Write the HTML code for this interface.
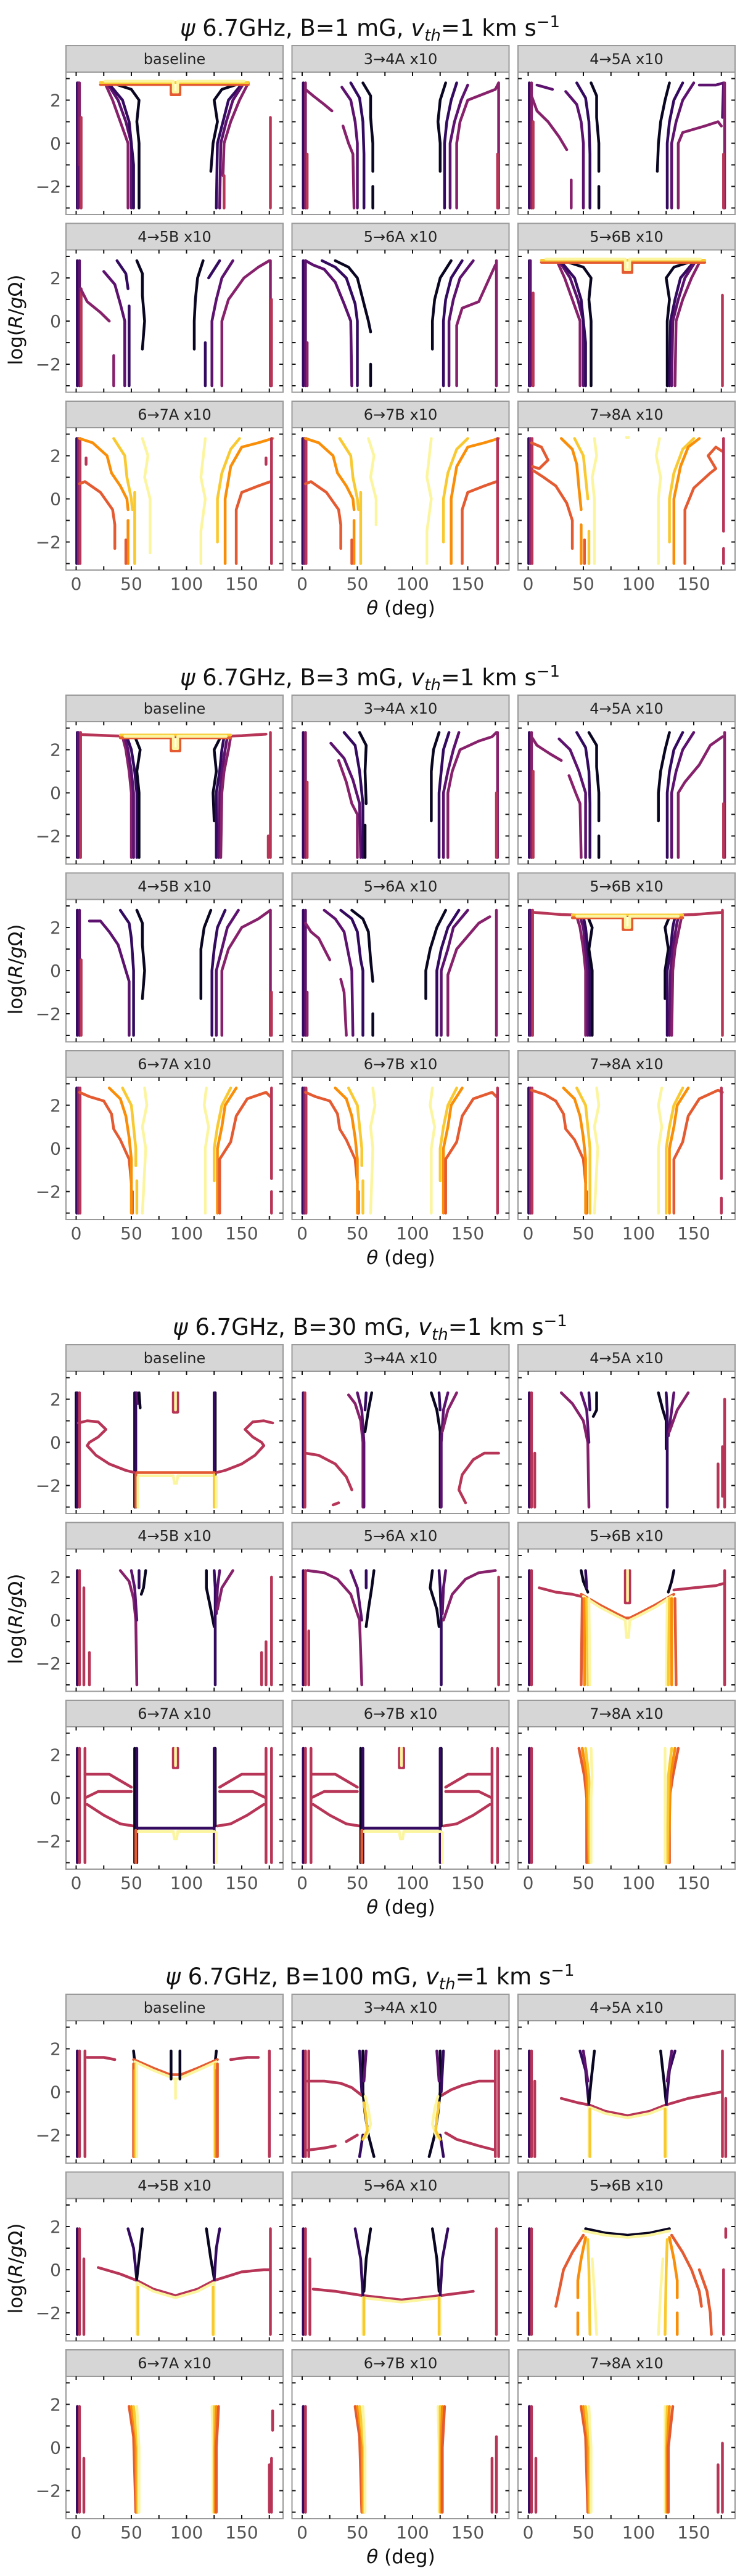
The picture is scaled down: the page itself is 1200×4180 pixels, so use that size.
<!DOCTYPE html>
<html><head><meta charset="utf-8">
<style>
html,body{margin:0;padding:0;background:#fff;}
body{width:1200px;height:4180px;overflow:hidden;position:relative;font-family:"DejaVu Sans","Liberation Sans",sans-serif;}
svg{position:absolute;left:0;top:0;}
</style></head>
<body>
<svg id="fig" width="1200" height="4180" viewBox="0 0 1200 4180" xmlns="http://www.w3.org/2000/svg"></svg>
<script>
// ---------------- data ----------------
const groupB = ["1", "3", "30", "100"];
const panelLabels = ["baseline","3\u21924A x10","4\u21925A x10","4\u21925B x10","5\u21926A x10","5\u21926B x10","6\u21927A x10","6\u21927B x10","7\u21928A x10"];
const levelValues = [-80,-60,-40,-20,0,20,40,60,80];
const xTicksMajor = [0,50,100,150];
const xTicksMinor = [25,75,125,175];
const yTicksMajor = [-2,0,2];
const yTicksMinor = [-3,-1,1,3];

// Group 1 : B = 1 mG  — each contour: [level, "theta,logR theta,logR ..."]
const g1Baseline = [
 [-60,"1,-3 1,2.8"],[-40,"2,-3 2,2.8"],[-20,"3,-1 3,2.8"],[0,"4.5,-3 4.5,1.2"],
 [-20,"47,-3 47,0 40,1 33,2 26,2.8"],[-40,"50,-3 50,0 45,1 38,2 28,2.8"],
 [-60,"52,-3 52,-1 48,1 42,2 29,2.8"],[-80,"57,-3 57,0 55,1 57,2 50,2.5 32,2.8"],
 [-80,"122,-1.3 124,0 128,1 125,2 132,2.5 150,2.8"],[-60,"127,-3 128,0 133,1 138,2 151,2.8"],
 [-40,"130,-3 131,0 136,1 142,2 152,2.8"],[-20,"133,-1.5 134,0 140,1 148,2 156,2.8"],
 [0,"134,-3 134,-1.5"],[0,"176,-3 176,1.2"],
 [20,"22,2.72 86,2.72 86,2.25 94,2.25 94,2.72 156,2.72"],[60,"22,2.82 156,2.82"],
 [80,"26,2.88 88,2.88 88,2.38 92,2.38 92,2.88 152,2.88"]
];
const g1T34A = [
 [-60,"1,-3 1,2.8"],[-20,"3,-3 3,2.8"],[0,"4.5,-3 4.5,-0.5"],
 [-20,"3,2.5 10,2.2 20,1.8 27,1.5"],[-20,"37,0.8 42,0 46,-0.5 47,-3"],
 [-40,"36,2.6 44,2.0 48,1.0 50,0 50,-3"],[-60,"44,2.8 52,2.1 55,1 56,-0.5 56,-3"],
 [-80,"55,2.8 62,2.2 62,1.2 64,0 64,-1.3"],[-80,"64,-2 64,-3"],
 [-80,"125,-1.3 125,0 123,1 125,2 130,2.8"],[-60,"129,-3 129,0 131,1 135,2 140,2.8"],
 [-40,"134,-3 134,0 138,1 144,2 150,2.7"],[-20,"140,-3 140,0 143,1 150,2 165,2.3 175,2.5 178,2.8"],
 [-20,"178,-3 178,2.8"],[0,"177,-3 177,-0.5"]
];
const g1T45A = [
 [-60,"1,-3 1,2.8"],[-20,"3,-3 3,2.8"],[0,"4.5,-3 4.5,1"],
 [-20,"3,2.2 8,1.5 18,1.0 28,0.3 35,-0.3"],[-20,"39,-1.7 39,-3"],
 [-40,"8,2.7 22,2.5"],[-40,"34,2.4 44,1.8 48,1.0 50,0 50,-3"],[-60,"44,2.8 52,2.1 55,1 56,-0.5 56,-3"],
 [-80,"57,2.8 62,2.2 62,1.2 64,0 64,-1.3"],[-80,"64,-2 64,-3"],
 [-80,"117,-1.3 118,0 120,1 124,2 128,2.8"],[-60,"126,-3 126,0 128,1 132,2 140,2.8"],
 [-40,"130,-3 130,0 134,1 140,2 150,2.8"],[-20,"136,-3 136,0 140,0.5 160,0.8 172,1 175,0.8"],
 [-40,"155,2.7 170,2.7 177,2.8 176,1.2"],[-20,"178,-3 178,2.8"],[0,"177,-3 177,-0.5"]
];
const g1T45B = [
 [-60,"1,-3 1,2.8"],[-40,"3,-3 3,2.8"],[0,"4.5,-3 4.5,1.5"],
 [-20,"4,1.5 10,0.9 22,0.4 30,0.0"],[-20,"34,-1.6 34,-3"],
 [-40,"25,2.3 35,1.7 40,0.8 44,0 44,-3"],[-60,"37,2.8 45,2.2 47,1.5"],[-60,"48,0.7 48,-3"],
 [-80,"55,2.8 60,2.2 60,1.2 62,0 60,-1.3"],
 [-80,"107,-1.3 107,0 108,1 110,2 115,2.8"],[-60,"117,-3 117,-1"],[-60,"120,2.0 130,2.8"],
 [-40,"123,-3 123,0 127,1 132,2 142,2.8"],[-20,"132,-3 132,0 138,1 152,2 165,2.5 175,2.8"],
 [-20,"176,-3 176,2.8"],[0,"177,-3 177,1"]
];
const g1T56A = [
 [-60,"1,-3 1,2.8"],[-40,"3,-3 3,2.8"],[-20,"4.5,-3 4.5,-1"],
 [-40,"3,2.8 10,2.6 20,2.4 30,1.8 38,0.8 44,0 45,-3"],
 [-60,"18,2.8 30,2.5 40,2.0 48,0.8 50,0 50,-3"],
 [-80,"30,2.8 42,2.5 50,2.0 56,0.8 60,0 62,-0.5"],[-80,"62,-2 62,-3"],
 [-80,"118,-1.3 118,0 120,1 125,2 135,2.8"],[-60,"128,-3 128,0 130,1 135,2 145,2.8"],
 [-40,"133,-3 133,0 137,1 143,2 155,2.8"],[-20,"176,-3 176,2.8"],
 [-20,"140,-3 140,-0.2 145,0.6 160,0.9 175,2.6"]
];
const g1T56B = [
 [-60,"1,-3 1,2.8"],[-40,"2,-3 2,2.8"],[0,"4.5,-3 4.5,1.3"],
 [-20,"47,-3 47,0 40,1 33,2 26,2.8"],[-40,"50,-3 50,0 45,1 38,2 28,2.8"],
 [-60,"52,-3 52,-1 48,1 42,2 29,2.8"],[-80,"57,-3 57,0 55,1 57,2 50,2.5 32,2.8"],
 [-80,"126,-3 126,0 128,1 125,2 132,2.5 150,2.8"],[-60,"128,-3 129,0 133,1 138,2 151,2.8"],
 [-40,"130,-3 131,0 136,1 142,2 152,2.8"],[-20,"133,-3 134,0 140,1 148,2 156,2.8"],
 [0,"176,-3 176,1.2"],
 [20,"12,2.72 86,2.72 86,2.25 94,2.25 94,2.72 160,2.72"],[60,"12,2.82 160,2.82"],
 [80,"16,2.88 88,2.88 88,2.38 92,2.38 92,2.88 156,2.88"]
];
const g1T67A = [
 [-60,"0.5,-3 0.5,2.8"],[-20,"2,-3 2,2.8"],[0,"3.5,-3 3.5,2.8"],[0,"9,1.6 9,1.9"],
 [40,"3,2.8 15,2.6 28,2.0 32,1.2 40,0.6 46,0 47,-0.5"],[40,"47,-1 47,-3"],
 [60,"34,2.8 44,2.0 46,1.0 50,0 51,-0.5"],[60,"53,0.3 53,-3"],
 [80,"60,2.8 65,2 62,1 67,0 67,-2.5"],
 [20,"3,0.7 8,0.8 22,0.3 33,-0.5 35,-1.2 35,-2.3"],[20,"45,-1.9 45,-3"],
 [80,"113,-3 113,-1.5 117,0 113,1 117,2.8"],[60,"128,-2 128,0 132,1.2 140,2.3 148,2.8"],
 [40,"135,-3 135,0 140,1.5 150,2.4 165,2.6 178,2.8"],[20,"145,-3 145,-0.5 150,0.3 165,0.6 176,0.8"],
 [0,"177,-3 177,2.8"],[0,"172,1.6 172,1.9"]
];
const g1T67B = [
 [-60,"0.5,-3 0.5,2.8"],[-20,"2,-3 2,2.8"],[0,"3.5,-3 3.5,2.8"],
 [40,"3,2.8 15,2.6 28,2.0 32,1.2 40,0.6 46,0 47,-0.5"],[40,"47,-1 47,-3"],
 [60,"34,2.8 44,2.0 46,1.0 50,0 51,-0.5"],[60,"53,0.3 53,-3"],
 [80,"60,2.8 65,2 62,1 67,0 67,-1.2"],
 [20,"3,0.7 8,0.8 22,0.3 33,-0.5 35,-1.2 35,-2.3"],[20,"45,-1.9 45,-3"],
 [80,"113,-3 113,-1.5 117,0 113,1 117,2.8"],[60,"128,-2 128,0 132,1.2 140,2.3 150,2.8"],
 [40,"135,-3 135,0 140,1.5 150,2.4 165,2.6 178,2.8"],[20,"145,-3 145,-0.5 150,0.3 165,0.6 176,0.8"],
 [0,"177,-3 177,2.8"]
];
const g1T78A = [
 [-60,"0.5,-3 0.5,2.8"],[-20,"2,-3 2,2.8"],[0,"3.5,-3 3.5,2.8"],
 [20,"3,2.6 12,2.4 18,1.8 10,1.4 4,1.5"],[20,"5,1.3 14,1.0 25,0.6 35,-0.2 40,-1 40,-2.3"],
 [40,"30,2.8 40,2.3 44,1.6 46,0.5 48,-0.5"],[40,"48,-1.2 48,-3"],[20,"51,-1.9 51,-3"],
 [60,"42,2.8 50,2 52,1 54,0"],[60,"55,-1.5 55,-3"],[80,"60,2.8 62,2 58,1 60,0 60,-3"],
 [80,"118,-3 118,0 120,1 116,2 119,2.8"],[60,"128,-2 128,0 132,1.2 140,2.3 150,2.8"],
 [40,"132,-3 132,0 138,1.5 145,2.4 155,2.8"],[20,"142,-3 142,-0.5 150,0.5 165,1.2 170,1.4 163,2.0 170,2.4 176,2.2"],
 [0,"177,-1.5 177,2.8"],[0,"177,-2.3 177,-3"],[80,"89,2.85 91,2.85"]
];
const g1Panels = [g1Baseline,g1T34A,g1T45A,g1T45B,g1T56A,g1T56B,g1T67A,g1T67B,g1T78A];

// Group 2 : B = 3 mG
const g2Baseline = [
 [-60,"1,-3 1,2.8"],[-40,"2,-3 2,2.8"],[0,"4,-3 4,2.8"],
 [0,"5,2.7 30,2.65 60,2.6 120,2.6 150,2.65 172,2.72"],
 [-20,"50,-3 50,0 48,1 45,2 42,2.6"],[-40,"52,-3 52,0 50,1 47,2 44,2.6"],
 [-60,"55,-3 55,0 53,1 50,2 46,2.6"],[-80,"57,-3 57,0 55,1 58,2 54,2.5"],
 [-80,"125,-1.3 124,0 127,1 125,2 130,2.5"],[-60,"127,-3 127,0 130,1 132,2 134,2.6"],
 [-40,"129,-3 130,0 132,1 135,2 137,2.6"],[-20,"131,-3 132,0 134,1 138,2 140,2.6"],
 [0,"176,-3 176,2.8"],[0,"174,-3 174,-2"],
 [20,"40,2.55 86,2.55 86,1.95 94,1.95 94,2.55 140,2.55"],[60,"40,2.68 140,2.68"],
 [80,"44,2.62 88,2.62 88,2.05 92,2.05 92,2.62 136,2.62"]
];
const g2T34A = [
 [-60,"1,-3 1,2.8"],[-20,"3,-3 3,2.8"],[0,"4.5,-3 4.5,0.5"],
 [-20,"33,1.5 40,0.5 45,-0.5 50,-1 50,-3"],
 [-40,"26,2.3 38,1.6 46,0.6 52,-0.5 53,-3"],[-60,"38,2.8 48,2.2 52,1 55,-0.5 55,-3"],
 [-80,"52,2.8 58,2.2 57,1 58,-0.5"],[-80,"57,-1.5 57,-3"],
 [-80,"117,-1.3 117,0 117,1 119,2 124,2.8"],[-60,"124,-3 124,0 126,1 128,2 133,2.8"],
 [-40,"128,-3 128,0 132,1 137,2 142,2.8"],[-20,"132,-3 132,0 136,1 143,2 160,2.4 172,2.6 176,2.8"],
 [-20,"177,-3 177,2.8"],[0,"176,-3 176,0"]
];
const g2T45A = [
 [-60,"1,-3 1,2.8"],[-20,"3,-3 3,2.8"],[0,"4.5,-3 4.5,1"],
 [-20,"3,2.6 8,2.2 20,1.8 30,1.5"],[-20,"37,0.8 43,0 47,-0.5 48,-3"],
 [-40,"28,2.5 38,2.0 46,1.0 52,0 52,-3"],[-60,"44,2.8 52,2.1 55,1 56,-0.5 56,-3"],
 [-80,"55,2.8 62,2.2 62,1.2 64,0 64,-1.3"],[-80,"64,-2 64,-3"],
 [-80,"118,-1.3 118,0 120,1 124,2 128,2.8"],[-60,"126,-3 126,0 128,1 132,2 140,2.8"],
 [-40,"130,-3 130,0 134,1 140,2 150,2.8"],[-20,"136,-3 136,0 142,0.5 155,1.3 165,2.2 176,2.6"],
 [-20,"178,-3 178,2.8"],[0,"177,-3 177,-0.5"]
];
const g2T45B = [
 [-60,"1,-3 1,2.8"],[-40,"3,-3 3,2.8"],[0,"4.5,-3 4.5,0.5"],
 [-40,"12,2.3 22,2.3 30,1.8 38,1.2 45,0 48,-0.5 48,-3"],
 [-60,"40,2.8 48,2.2 50,1.5 52,0 52,-3"],[-80,"55,2.8 60,2.2 60,1.2 62,0 60,-1.3"],
 [-80,"113,-1.3 113,0 113,1 116,2 122,2.8"],[-60,"123,-3 123,0 125,1 128,2 135,2.8"],
 [-40,"127,-3 127,0 132,1 137,2 147,2.8"],[-20,"132,-3 132,0 138,1 150,2 165,2.4 176,2.8"],
 [-20,"176,-3 176,2.8"],[0,"177,-3 177,-1"]
];
const g2T56A = [
 [-60,"1,-3 1,2.8"],[-40,"3,-3 3,2.8"],[-20,"4.5,-3 4.5,-1"],
 [-20,"3,2.2 8,1.8 15,1.5 20,1.0 25,0.5"],[-20,"35,-0.4 38,-1 40,-3"],
 [-40,"20,2.8 30,2.4 38,1.8 43,0.5 45,0 46,-3"],
 [-60,"35,2.8 45,2.4 50,1.8 53,0.5 55,0 55,-3"],
 [-80,"45,2.8 55,2.4 60,1.8 62,0.5 64,-0.5"],[-80,"64,-2 64,-3"],
 [-80,"112,-1.3 112,0 116,1 122,2 130,2.8"],[-60,"122,-3 122,0 126,1 132,2 142,2.8"],
 [-40,"126,-3 126,0 132,1 137,2 150,2.8"],[-20,"176,-3 176,2.8"],
 [-20,"132,-3 132,-0.2 140,1 150,1.6 160,2.2 170,2.5"]
];
const g2T56B = [
 [-60,"1,-3 1,2.8"],[-40,"2,-3 2,2.8"],[0,"4,-3 4,2.8"],
 [0,"5,2.7 30,2.6 60,2.55 120,2.55 150,2.6 176,2.7"],
 [-20,"52,-3 52,0 50,1 47,2 44,2.5"],[-40,"54,-3 54,0 52,1 50,2 47,2.5"],
 [-60,"56,-3 56,0 54,1 52,2 50,2.5"],[-80,"58,-3 58,0 55,1 58,2 54,2.5"],
 [-80,"124,-1.3 124,0 127,1 124,2 128,2.5"],[-60,"126,-3 126,0 129,1 131,2 133,2.5"],
 [-40,"128,-3 129,0 131,1 134,2 136,2.5"],[-20,"130,-3 131,0 133,1 137,2 139,2.5"],
 [0,"176,-3 176,2.8"],
 [20,"40,2.45 86,2.45 86,1.9 94,1.9 94,2.45 140,2.45"],[60,"40,2.58 140,2.58"],
 [80,"44,2.52 88,2.52 88,2.0 92,2.0 92,2.52 136,2.52"]
];
const g2T67A = [
 [-60,"0.5,-3 0.5,2.8"],[-20,"2,-3 2,2.8"],[0,"3.5,-3 3.5,2.8"],
 [20,"3,2.6 12,2.4 25,2.2 32,1.6 34,0.9 40,0.4 48,-0.5 50,-1.6"],[20,"51,-2 51,-3"],
 [40,"30,2.8 40,2.3 45,1.5 48,0.5 50,-0.5 50,-3"],
 [60,"42,2.8 50,2.0 52,1.0 54,0 54,-0.8"],[60,"55,-1.5 55,-3"],
 [80,"62,2.8 64,2.0 60,1.0 63,0 60,-3"],
 [80,"117,-3 117,0 120,1 116,2 118,2.8"],[60,"125,-1.5 125,0 128,1 132,2 140,2.8"],
 [40,"128,-3 128,0 132,1 135,2 145,2.8"],[20,"130,-3 130,-0.5 140,0.3 145,1.5 155,2.3 172,2.6 176,2.4"],
 [0,"177,-3 177,-2"],[0,"177,-1.4 177,2.8"]
];
const g2T67B = [
 [-60,"0.5,-3 0.5,2.8"],[-20,"2,-3 2,2.8"],[0,"3.5,-3 3.5,2.8"],
 [20,"3,2.6 12,2.4 25,2.2 32,1.6 34,0.9 40,0.4 48,-0.5 50,-1.6"],[20,"51,-2 51,-3"],
 [40,"30,2.8 40,2.3 45,1.5 48,0.5 50,-0.5 50,-3"],
 [60,"42,2.8 50,2.0 52,1.0 54,0 54,-0.8"],[60,"55,-1.5 55,-3"],
 [80,"64,2.8 66,2.0 62,1.0 64,0 62,-3"],
 [80,"117,-3 117,0 120,1 116,2 118,2.8"],[60,"125,-1.5 125,0 128,1 132,2 140,2.8"],
 [40,"128,-3 128,0 132,1 135,2 145,2.8"],[20,"130,-3 130,-0.5 140,0.3 145,1.5 155,2.3 172,2.6 176,2.4"],
 [0,"177,-3 177,2.8"]
];
const g2T78A = [
 [-60,"0.5,-3 0.5,2.8"],[-20,"2,-3 2,2.8"],[0,"3.5,-3 3.5,2.8"],
 [20,"3,2.7 15,2.5 25,2.2 32,1.6 34,0.9 42,0.4 50,-0.5 52,-1.6"],[20,"53,-2 53,-3"],
 [40,"32,2.8 42,2.3 47,1.5 50,0.5 52,-0.5 52,-3"],
 [60,"44,2.8 52,2.0 54,1.0 56,0 56,-3"],
 [80,"62,2.8 64,2.0 60,1.0 63,0 60,-3"],
 [80,"118,-3 118,0 121,1 118,2 121,2.8"],[60,"125,-3 125,0 128,1 132,2 140,2.8"],
 [40,"128,-3 128,0 132,1 135,2 145,2.8"],[20,"132,-3 132,-0.5 140,0.3 145,1.5 155,2.3 172,2.7 176,2.6"],
 [0,"175,-1.4 175,2.8"],[0,"175,-2.3 175,-3"]
];
const g2Panels = [g2Baseline,g2T34A,g2T45A,g2T45B,g2T56A,g2T56B,g2T67A,g2T67B,g2T78A];

// Group 3 : B = 30 mG
const g3Baseline = [
 [-80,"0,-3 0,2.3"],[-60,"1,-3 1,2.3"],[0,"3,-3 3,2.3"],
 [-80,"53,-3 53,2.3"],[-60,"54,-3 54,2.3"],[-40,"55,2.3 56,1.8"],[-80,"57,2.3 58,1.6"],
 [-80,"126,-1.5 126,2.3"],[-60,"125,-1.5 125,2.3"],
 [0,"2,0.9 10,1.0 20,0.95 27,0.6 20,0.25 12,0 10,-0.15 18,-0.6 30,-1.0 45,-1.3 53,-1.4"],
 [0,"178,0.9 170,1.0 160,0.95 153,0.6 160,0.25 168,0 170,-0.15 162,-0.6 150,-1.0 135,-1.3 127,-1.4"],
 [20,"55,-1.4 125,-1.4"],[80,"55,-1.55 88,-1.55 89,-1.9 91,-1.9 92,-1.55 125,-1.55"],
 [20,"54,-1.5 54,-3"],[80,"56,-1.6 56,-3"],[60,"125,-1.5 125,-3"],[80,"127,-1.6 127,-3"],
 [0,"88,2.3 88,1.4 92,1.4 92,2.3"],[80,"90,2.3 90,1.5"]
];
const g3T34A = [
 [-60,"1,-3 1,2.3"],[0,"2.5,-3 2.5,2.3"],
 [0,"3,-0.5 15,-0.6 30,-1.0 40,-1.6 45,-2.2"],[0,"28,-2.9 33,-2.8"],
 [0,"178,-0.5 165,-0.5 155,-0.8 145,-1.5 142,-2.2 148,-2.8"],
 [-20,"42,2.2 48,1.8 53,1.0 55,0 55,-3"],[-40,"50,2.3 54,1.5 56,0 56,-3"],
 [-80,"63,2.3 60,1.5 57,0.5"],[-60,"58,2.3 57,1.5"],
 [-80,"117,2.3 122,1.5 125,0.5 125,-3"],[-60,"124,2.3 125,1.5"],
 [-40,"132,2.3 128,1.5 126,0 126,-3"],[-20,"140,2.3 132,1.5 127,0.5"]
];
const g3T45A = [
 [-60,"1,-3 1,2.3"],[0,"3,-3 3,2.3"],[0,"6,-3 6,-0.5"],
 [-20,"30,2.3 40,1.8 50,1 54,0 55,-3"],[-40,"48,2.3 53,1.5 55,0"],
 [-80,"62,2.3 62,1.5 59,1.2"],[-60,"55,2.3 56,1.5"],
 [-80,"118,2.3 122,1.5 125,1 125,-0.3"],[-60,"125,2.3 126,1.5 126,0 126,-3"],
 [-40,"132,2.3 130,1.5 127,0.3"],[-20,"145,2.3 135,1.5 128,0.5"],
 [0,"178,2.0 178,-3"],[0,"176,-0.2 176,-2.5"],[0,"172,-1 172,-3"]
];
const g3T45B = [
 [-60,"1,-3 1,2.3"],[0,"3,-3 3,2.3"],[0,"7,1.5 7,-3"],[0,"12,-1.5 12,-3"],
 [-20,"40,2.3 48,1.8 52,1 54,0 55,-3"],[-40,"50,2.3 53,1.5 55,0"],
 [-80,"63,2.3 61,1.5 59,1.2"],[-60,"57,2.3 57,1.5"],
 [-80,"118,2.3 118,1.5 122,0.5 125,-0.3"],[-60,"125,2.3 126,1.5 126,0 126,-3"],
 [-40,"130,2.3 128,1.5 127,0.3"],[-20,"142,2.3 132,1.5 128,0.5"],
 [0,"177,2.0 177,-3"],[0,"172,-1 172,-3"],[0,"168,-1.5 168,-3"]
];
const g3T56A = [
 [-60,"1,-3 1,2.3"],[0,"3,-3 3,2.3"],[0,"6,-0.5 6,-3"],
 [-20,"5,2.3 20,2.2 32,1.9 44,1.2 52,0 54,-3"],[-40,"44,2.3 50,1.5 54,0"],
 [-80,"65,2.3 63,1.5 60,0.5 58,-0.3"],[-60,"58,2.3 58,1.5"],
 [-80,"118,2.3 116,1.5 122,0.5 124,-0.3"],[-60,"124,2.3 125,1.5 126,0 126,-3"],
 [-40,"130,2.3 128,1.5 127,0.3"],[-20,"175,2.3 160,2.2 148,1.9 136,1.2 128,0"],
 [0,"178,2.0 178,-3"]
];
const g3T56B = [
 [-60,"1,-3 1,2.3"],[0,"3,-3 3,2.3"],
 [0,"10,1.5 25,1.3 40,1.2 48,1.1"],[0,"132,1.4 150,1.5 170,1.6 177,1.7"],[0,"178,2.3 178,-3"],
 [-80,"48,2.3 50,1.8 54,1.3"],[-60,"52,2.3 53,1.5"],[-80,"132,2.3 130,1.8 127,1.3"],
 [20,"48,1.2 65,0.7 80,0.3 88,0.1 92,0.1 100,0.3 115,0.7 132,1.2"],
 [80,"50,1.1 65,0.6 80,0.2 88,0 89,-0.8 91,-0.8 92,0 100,0.2 115,0.6 130,1.1"],
 [20,"49,1 48,-3"],[40,"51,1 51,-3"],[60,"53,1 54,-3"],[80,"55,1 56,-3"],
 [80,"126,1 125,-3"],[60,"128,1 127,-3"],[40,"130,1 130,-3"],[20,"133,1 134,-3"],
 [0,"88,2.3 88,0.8 92,0.8 92,2.3"],[80,"90,2.3 90,0.9"]
];
const g3T67A = [
 [-60,"1,-3 1,2.3"],[0,"3,-3 3,2.3"],[0,"8,-3 8,2.3"],[0,"172,-3 172,2.3"],[0,"177,-3 177,2.3"],
 [0,"8,1.1 20,1.1 30,1.1 40,0.8 50,0.5"],[0,"8,0 20,0.3 35,0.3 50,0.3"],[0,"10,-0.3 25,-0.8 40,-1.2 52,-1.3"],
 [0,"172,1.1 160,1.1 150,1.1 140,0.8 130,0.5"],[0,"172,0 160,0.3 145,0.3 130,0.3"],[0,"170,-0.3 155,-0.8 140,-1.2 128,-1.3"],
 [-80,"53,-3 53,2.3"],[-60,"55,-3 55,2.3"],[-80,"126,-1.3 126,2.3"],[-60,"125,-3 125,2.3"],
 [-60,"55,-1.4 125,-1.4"],[80,"55,-1.55 88,-1.55 89,-1.9 91,-1.9 92,-1.55 125,-1.55"],
 [20,"54,-1.5 54,-3"],[80,"127,-1.6 127,-3"],
 [0,"88,2.3 88,1.4 92,1.4 92,2.3"],[80,"90,2.3 90,1.5"]
];
const g3T78A = [
 [-60,"1,-3 1,2.3"],[0,"3,-3 3,2.3"],
 [20,"46,2.3 51,1 53,0 53,-3"],[40,"49,2.3 53,1 55,-3"],[60,"52,2.3 55,1 56,-3"],[80,"57,2.3 58,1 57,0 57,-3"],
 [20,"136,2.3 131,1 128,0 128,-3"],[40,"133,2.3 129,1 127,-3"],[60,"130,2.3 127,1 126,-3"],[80,"124,2.3 124,1 124,-3"]
];
const g3Panels = [g3Baseline,g3T34A,g3T45A,g3T45B,g3T56A,g3T56B,g3T67A,g3T67A,g3T78A];

// Group 4 : B = 100 mG
const g4Baseline = [
 [-60,"1,-3 1,1.9"],[0,"3,-3 3,1.9"],[0,"8,-3 8,1.9"],[0,"10,1.6 25,1.6 35,1.5"],
 [0,"140,1.5 155,1.6 165,1.6"],[0,"175,-3 175,1.9"],
 [-80,"52,1.9 53,1.4"],[-80,"127,1.9 126,1.4"],
 [20,"52,1.5 70,1.1 85,0.8 95,0.8 110,1.1 128,1.5"],
 [80,"53,1.4 70,1.0 85,0.7 88,0.6 92,0.6 110,1.0 127,1.4"],
 [20,"52,1.3 52,-3"],[40,"53,1 53,-3"],[60,"54,1.3 54,-3"],[80,"55,1.3 55,-3"],
 [80,"125,1.3 125,-3"],[60,"126,1.3 126,-3"],[40,"127,1 127,-3"],[20,"128,1.3 128,-3"],
 [-80,"86,1.9 86,0.6"],[-80,"94,1.9 94,0.6"],[80,"90,0.6 90,-0.3"]
];
const g4T34A = [
 [-60,"1,-3 1,1.9"],[0,"3,-3 3,1.9"],[0,"6,-3 6,1.9"],[0,"178,-3 178,1.9"],[0,"175,-3 175,1.9"],
 [0,"5,0.5 20,0.5 35,0.4 45,0.2 55,-0.2"],[0,"5,-2.7 20,-2.6 30,-2.5"],[0,"40,-2.3 50,-2"],
 [0,"175,0.5 160,0.5 145,0.3 135,0.1 125,-0.2"],[0,"175,-2.7 160,-2.5 140,-2.2 130,-1.9"],
 [-80,"55,1.9 55,0 57,-1 60,-2 65,-3"],[-60,"52,1.9 54,0"],[-40,"58,1.9 56,0.5"],[-60,"55,-2 52,-3"],
 [80,"57,-0.2 60,-0.8 62,-1.5 58,-2.1"],[60,"56,-0.5 58,-1.2 59,-1.8 55,-2.2"],
 [-80,"125,1.9 125,0 123,-1 120,-2 115,-3"],[-60,"128,1.9 126,0"],[-40,"122,1.9 124,0.5"],[-60,"125,-2 128,-3"],
 [80,"123,-0.2 120,-0.8 118,-1.5 122,-2.1"],[60,"124,-0.5 122,-1.2 121,-1.8 125,-2.2"]
];
const g4T45A = [
 [-60,"1,-3 1,1.9"],[0,"3,-3 3,1.9"],[0,"6,-3 6,0.5"],[0,"176,-3 176,1.9"],[0,"179,-0.3 179,-3"],
 [0,"30,-0.3 45,-0.5 55,-0.6 70,-0.9 90,-1.1 110,-0.9 125,-0.6 145,-0.3 165,-0.1 175,0"],
 [80,"55,-0.7 70,-1.0 90,-1.2 110,-1.0 125,-0.7"],
 [-60,"47,1.9 52,1 55,-0.6"],[-80,"60,1.9 57,0.5 55,-0.5"],[-40,"50,1.9 54,0.5"],
 [-80,"120,1.9 123,0.5 125,-0.5"],[-60,"133,1.9 128,1 125,-0.6"],[-40,"130,1.9 126,0.5"],
 [80,"55,-0.7 55,-3"],[60,"56,-0.8 56,-3"],[80,"125,-0.7 125,-3"],[60,"124,-0.8 124,-3"]
];
const g4T45B = [
 [-60,"1,-3 1,1.9"],[0,"3,-3 3,1.9"],[0,"7,0.5 7,-3"],[0,"176,-3 176,1.9"],
 [0,"20,0.1 40,-0.2 55,-0.5 70,-0.9 90,-1.2 110,-0.9 125,-0.5 150,-0.1 170,0 175,0"],
 [80,"55,-0.6 70,-1.0 90,-1.3 110,-1.0 125,-0.6"],
 [-60,"47,1.9 52,1 55,-0.5"],[-80,"60,1.9 57,0.5 55,-0.4"],
 [-80,"118,1.9 122,0.5 125,-0.4"],[-60,"130,1.9 127,1 125,-0.5"],
 [80,"55,-0.6 55,-3"],[60,"56,-0.8 56,-3"],[80,"125,-0.6 125,-3"],[60,"124,-0.8 124,-3"]
];
const g4T56A = [
 [-60,"1,-3 1,1.9"],[0,"3,-3 3,1.9"],[0,"7,-3 7,0.5"],[0,"176,-3 176,1.9"],
 [0,"10,-0.9 30,-1.0 55,-1.2 90,-1.4 125,-1.2 140,-1.1 155,-1.0"],
 [80,"55,-1.3 90,-1.5 125,-1.3"],
 [-60,"48,1.9 53,0.5 55,-1.2"],[-80,"62,1.9 58,0.5 56,-1"],
 [-80,"118,1.9 122,0.5 124,-1"],[-60,"132,1.9 127,0.5 125,-1.2"],
 [80,"55,-1.3 55,-3"],[60,"56,-1.3 56,-3"],[80,"125,-1.3 125,-3"],[60,"124,-1.3 124,-3"]
];
const g4T56B = [
 [-60,"1,-3 1,1.9"],[0,"3,-3 3,1.9"],[0,"177,-3 177,0"],[0,"179,1.9 179,1.5"],
 [-80,"52,1.9 70,1.7 90,1.6 110,1.7 128,1.9"],[80,"50,1.8 70,1.6 90,1.5 110,1.6 128,1.8"],
 [20,"50,1.6 40,0.8 32,0 28,-1 25,-1.7"],[40,"52,1.5 48,0.5 45,-0.5 45,-1.3"],[40,"45,-2 45,-3"],
 [60,"54,1.4 55,0 56,-3"],[80,"58,0.5 60,-1 62,-3"],
 [20,"130,1.6 140,0.8 148,0 155,-1 157,-1.7"],[40,"128,1.5 132,0.5 135,-0.5 135,-1.3"],[40,"135,-2 135,-3"],
 [60,"126,1.4 125,0 124,-3"],[80,"122,0.5 120,-1 118,-3"],
 [20,"155,0 162,-1 165,-2 166,-3"]
];
const g4T67A = [
 [-60,"1,-3 1,1.9"],[0,"3,-3 3,1.9"],[0,"7,-0.5 7,-3"],
 [20,"48,1.9 52,0.5 54,-3"],[40,"50,1.9 54,0.5 55,-3"],[60,"52,1.9 56,0 56,-3"],[80,"55,1.9 57,0 57,-3"],
 [80,"123,1.9 124,0 124,-3"],[60,"125,1.9 125,0 125,-3"],[40,"127,1.9 126,0 126,-3"],[20,"129,1.9 127,0 127,-3"],
 [0,"175,-0.8 175,-3"],[0,"178,1.7 178,0.8"],[0,"177,-0.5 177,-3"]
];
const g4T67B = [
 [-60,"1,-3 1,1.9"],[0,"3,-3 3,1.9"],
 [20,"48,1.9 52,0.5 54,-3"],[40,"50,1.9 54,0.5 55,-3"],[60,"52,1.9 56,0 56,-3"],[80,"55,1.9 57,0 57,-3"],
 [80,"123,1.9 124,0 124,-3"],[60,"125,1.9 125,0 125,-3"],[40,"127,1.9 126,0 126,-3"],[20,"129,1.9 127,0 127,-3"],
 [0,"176,0.5 176,-3"],[0,"172,-0.5 172,-3"]
];
const g4T78A = [
 [-60,"1,-3 1,1.9"],[0,"3,-3 3,1.9"],[0,"7,-0.5 7,-3"],
 [20,"48,1.9 52,0.5 54,-3"],[40,"50,1.9 54,0.5 55,-3"],[60,"52,1.9 56,0 56,-3"],[80,"55,1.9 57,0 57,-3"],
 [80,"124,1.9 124,0 124,-3"],[60,"126,1.9 125,0 125,-3"],[40,"128,1.9 126,0 126,-3"],[20,"131,1.9 127,0 127,-3"],
 [0,"176,0.2 176,-3"],[0,"172,-0.8 172,-3"]
];
const g4Panels = [g4Baseline,g4T34A,g4T45A,g4T45B,g4T56A,g4T56B,g4T67A,g4T67B,g4T78A];

const allGroups = [g1Panels, g2Panels, g3Panels, g4Panels];

// ---------------- styles / layout ----------------
const levelColors = ["#0a0622","#330a5f","#5c126e","#87216b","#b73557","#e45a31","#f98e09","#f9c932","#fcf5a0"];
const GROUP_PITCH = 1054, STRIP_TOP = 74, ROW_PITCH = 288.5, STRIP_H = 43, PLOT_H = 231;
const COL_X0 = 107, COL_PITCH = 366.5, PANEL_W = 352;
const TH_OFF = 16.5, TH_SCALE = 1.79;
const Y_MAX = 3.3, Y_MIN = -3.3;

const NS = "http://www.w3.org/2000/svg";
const svg = document.getElementById("fig");
function mk(tag, attrs, parent) {
  const e = document.createElementNS(NS, tag);
  for (const k in attrs) e.setAttribute(k, attrs[k]);
  (parent || svg).appendChild(e);
  return e;
}
function xScale(px, th) { return px + TH_OFF + th * TH_SCALE; }
function yScale(py, v) { return py + (Y_MAX - v) / (Y_MAX - Y_MIN) * PLOT_H; }

allGroups.forEach((panels, g) => {
  const G = g * GROUP_PITCH;
  const grp = mk("g", {});
  
  

  const t = mk("text", {x: 600, y: G + STRIP_TOP - 16, "text-anchor": "middle", "font-size": 37, fill: "#111"}, grp);
  
  
  t.innerHTML = '<tspan font-style="italic">\u03c8</tspan> 6.7GHz, B=' + groupB[g] + ' mG, <tspan font-style="italic">v</tspan><tspan font-style="italic" font-size="26" dy="8">th</tspan><tspan dy="-8">=1 km s</tspan><tspan font-size="26" dy="-14">\u22121</tspan>';

  const yl = mk("text", {x: 0, y: 0, "text-anchor": "middle", "font-size": 31, fill: "#111",
    transform: "translate(36," + (G + STRIP_TOP + 445) + ") rotate(-90)"}, grp);
  
  
  yl.innerHTML = 'log(<tspan font-style="italic">R</tspan>/<tspan font-style="italic">g</tspan>\u03a9)';

  const xl = mk("text", {x: 650, y: G + STRIP_TOP + 923, "text-anchor": "middle", "font-size": 31, fill: "#111"}, grp);
  
  
  xl.innerHTML = '<tspan font-style="italic">\u03b8</tspan> (deg)';

  panels.forEach((lines, i) => {
    const r = Math.floor(i / 3), c = i % 3;
    const px = COL_X0 + c * COL_PITCH;
    const sy = G + STRIP_TOP + r * ROW_PITCH;
    const py = sy + STRIP_H;
    const pg = mk("g", {}, grp);
    
    

    const strip = mk("rect", {x: px, y: sy, width: PANEL_W, height: STRIP_H, fill: "#d6d6d6", stroke: "#9a9a9a", "stroke-width": 2}, pg);
    
    
    const st = mk("text", {x: px + PANEL_W / 2, y: sy + 30, "text-anchor": "middle", "font-size": 24, fill: "#222"}, pg);
    
    
    st.textContent = panelLabels[i];

    const clipId = "clip" + g + "_" + i;
    const cp = mk("clipPath", {id: clipId}, pg);
    mk("rect", {x: px, y: py, width: PANEL_W, height: PLOT_H}, cp);

    const lg = mk("g", {"clip-path": "url(#" + clipId + ")"}, pg);
    
    
    lines.forEach(([lvl, pts]) => {
      const d = pts.trim().split(/\s+/).map((p, k) => {
        const [th, v] = p.split(",").map(Number);
        return (k ? "L" : "M") + xScale(px, th).toFixed(1) + " " + yScale(py, v).toFixed(1);
      }).join(" ");
      const col = levelColors[levelValues.indexOf(lvl)];
      const path = mk("path", {d: d, fill: "none", stroke: col, "stroke-width": 4.5, "stroke-linecap": "round", "stroke-linejoin": "round"}, lg);
      
      
    });

    const frame = mk("rect", {x: px, y: py, width: PANEL_W, height: PLOT_H, fill: "none", stroke: "#9a9a9a", "stroke-width": 2}, pg);
    
    

    const tk = mk("g", {stroke: "#111", "stroke-width": 2}, pg);
    
    
    xTicksMajor.concat(xTicksMinor).forEach(v => {
      const x = xScale(px, v);
      mk("line", {x1: x, x2: x, y1: py + PLOT_H, y2: py + PLOT_H - 6}, tk);
      mk("line", {x1: x, x2: x, y1: py, y2: py + 6}, tk);
    });
    yTicksMajor.concat(yTicksMinor).forEach(v => {
      const y = yScale(py, v);
      mk("line", {x1: px, x2: px + 6, y1: y, y2: y}, tk);
      mk("line", {x1: px + PANEL_W, x2: px + PANEL_W - 6, y1: y, y2: y}, tk);
    });
    if (c === 0) {
      yTicksMajor.forEach(v => {
        const tl = mk("text", {x: px - 8, y: yScale(py, v) + 10, "text-anchor": "end", "font-size": 28, fill: "#555"}, pg);
        
        
        tl.textContent = v < 0 ? "\u2212" + Math.abs(v) : String(v);
      });
    }
    if (r === 2) {
      xTicksMajor.forEach(v => {
        const tl = mk("text", {x: xScale(px, v), y: py + PLOT_H + 32, "text-anchor": "middle", "font-size": 28, fill: "#555"}, pg);
        
        
        tl.textContent = String(v);
      });
    }
  });
});
</script>
</body></html>
